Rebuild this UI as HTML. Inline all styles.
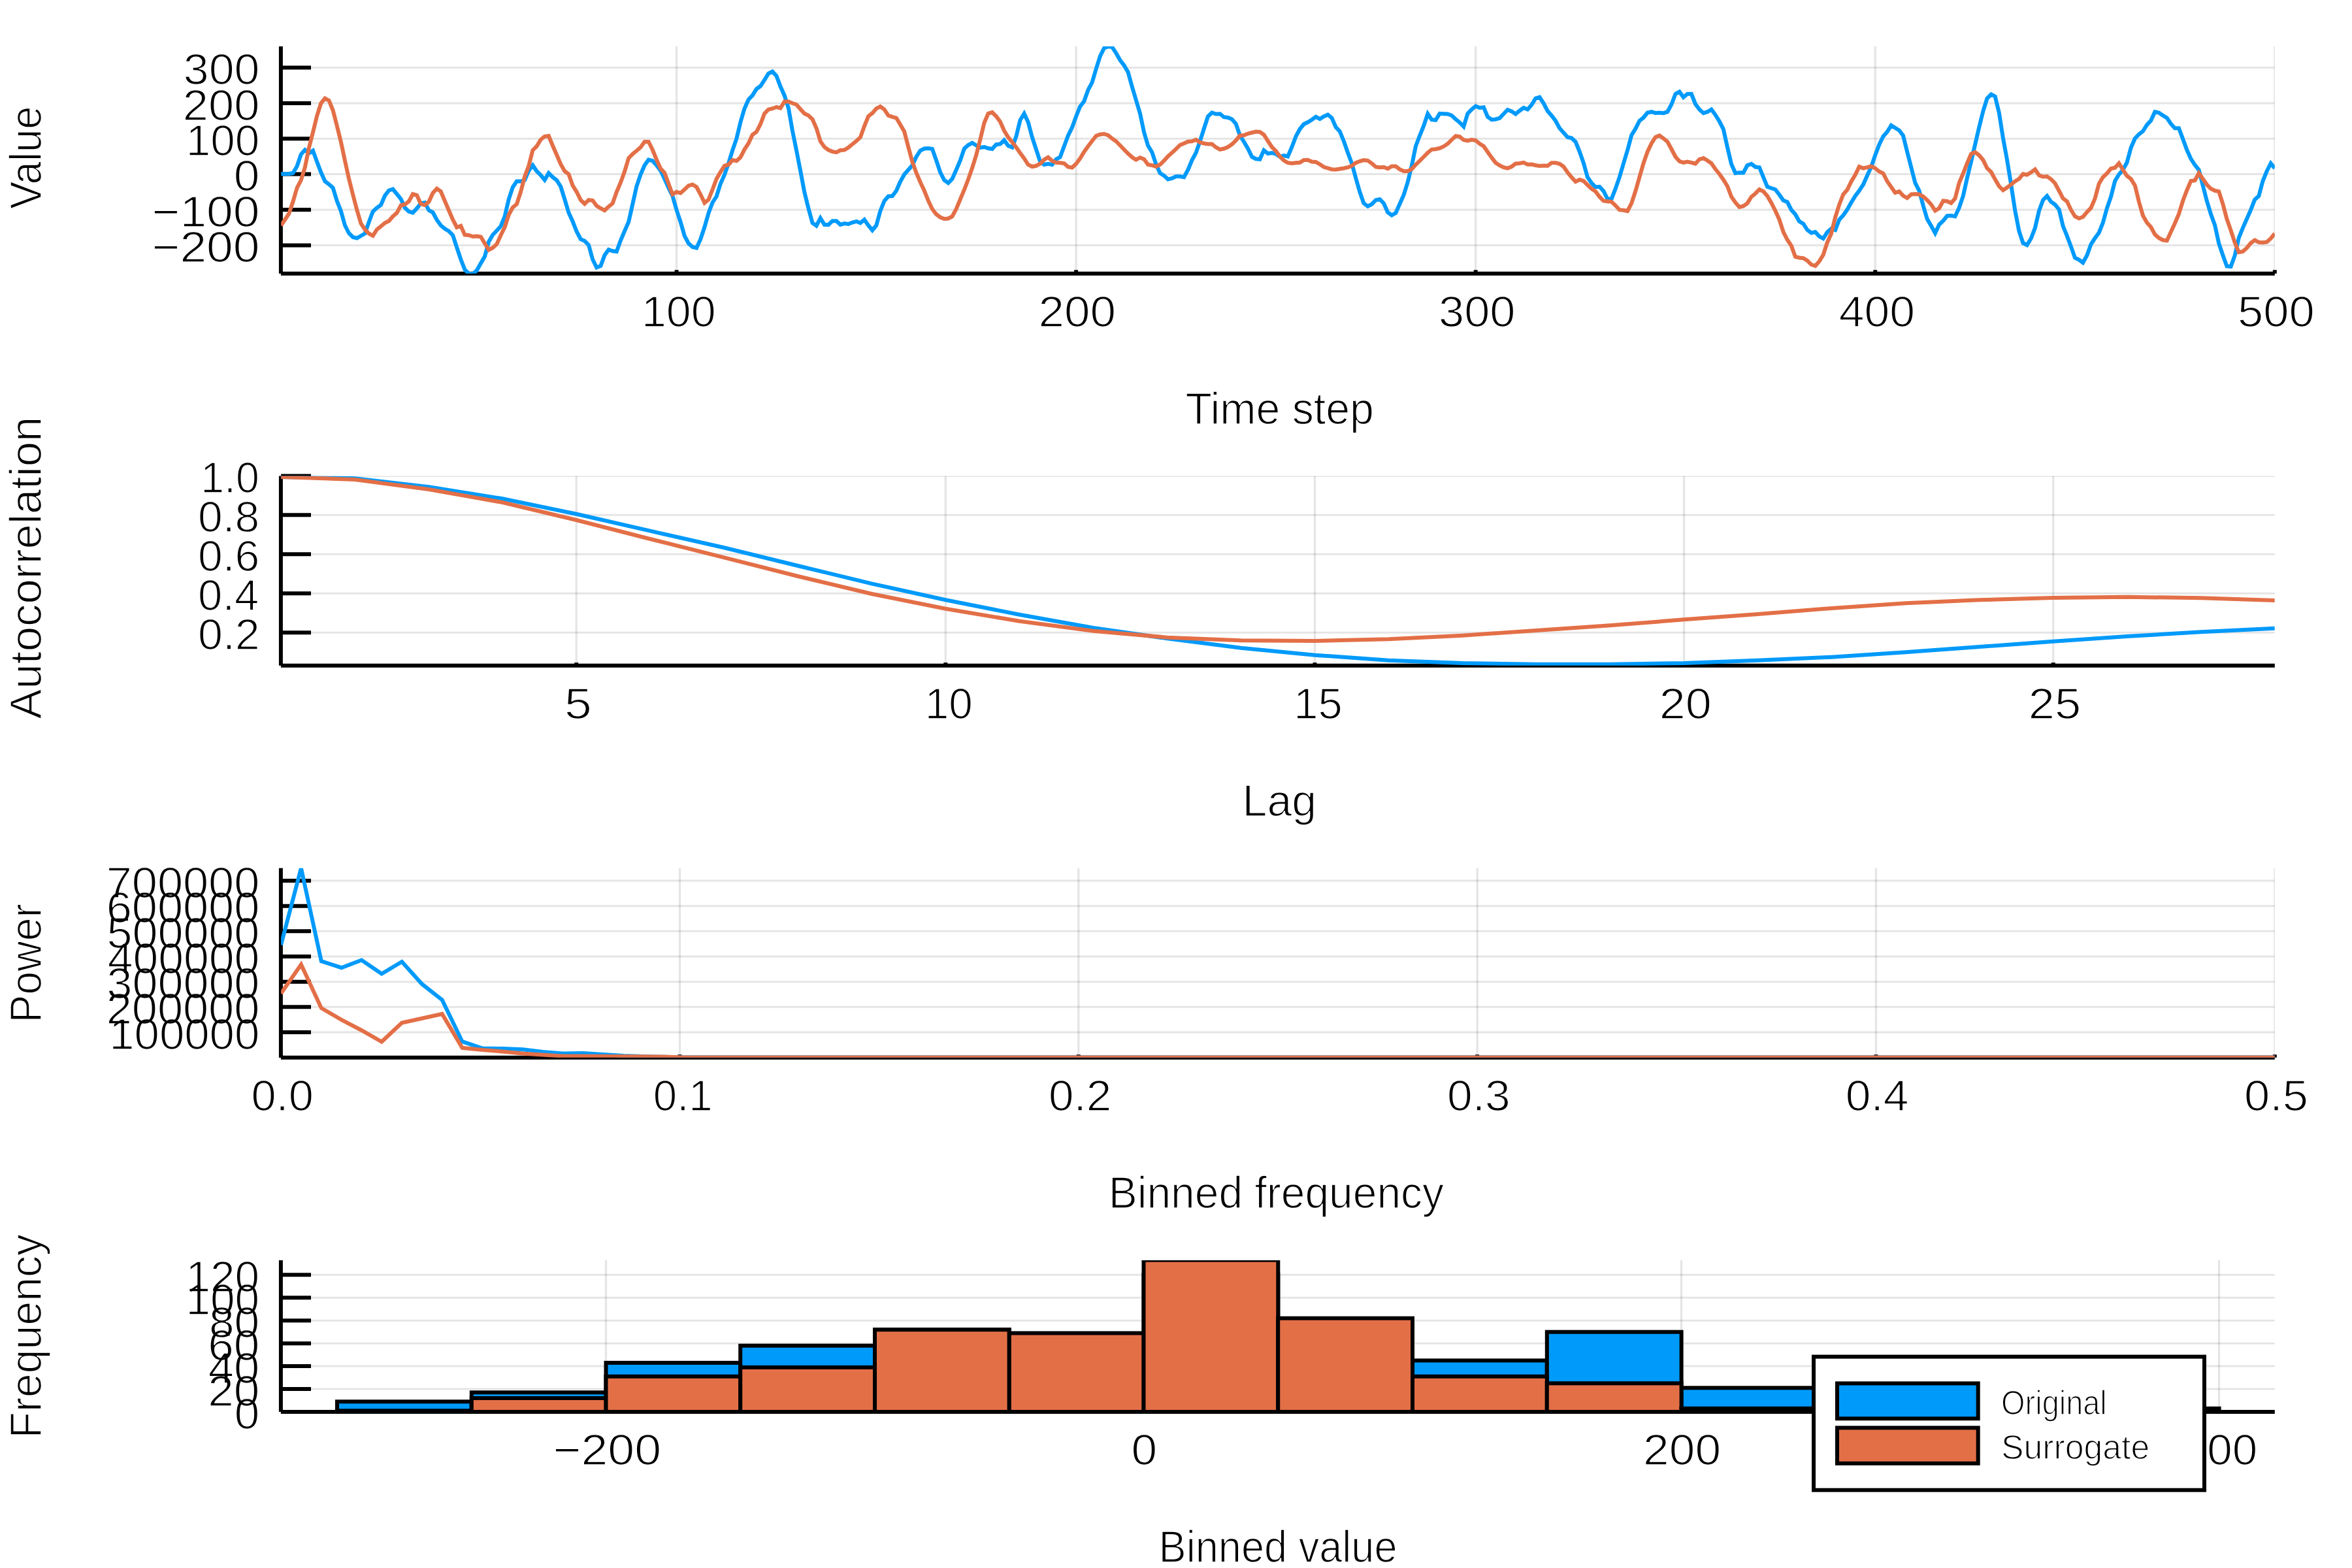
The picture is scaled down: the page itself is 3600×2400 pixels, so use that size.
<!DOCTYPE html>
<html><head><meta charset="utf-8"><title>Surrogate comparison</title>
<style>html,body{margin:0;padding:0;background:#fff}svg{display:block}</style></head>
<body>
<svg width="3600" height="2400" viewBox="0 0 3600 2400" font-family="'Liberation Sans', sans-serif" fill="#000">
<rect width="3600" height="2400" fill="#fff"/>
<clipPath id="c1"><rect x="430.1" y="71.0" width="3051.7000000000003" height="347.7"/></clipPath>
<clipPath id="g1"><rect x="430.1" y="71.0" width="3051.7000000000003" height="347.7"/></clipPath>
<g clip-path="url(#g1)">
<line x1="1035.55" y1="71.0" x2="1035.55" y2="418.7" stroke="#000" stroke-opacity="0.1" stroke-width="3.3"/>
<line x1="1647.11" y1="71.0" x2="1647.11" y2="418.7" stroke="#000" stroke-opacity="0.1" stroke-width="3.3"/>
<line x1="2258.67" y1="71.0" x2="2258.67" y2="418.7" stroke="#000" stroke-opacity="0.1" stroke-width="3.3"/>
<line x1="2870.24" y1="71.0" x2="2870.24" y2="418.7" stroke="#000" stroke-opacity="0.1" stroke-width="3.3"/>
<line x1="3481.80" y1="71.0" x2="3481.80" y2="418.7" stroke="#000" stroke-opacity="0.1" stroke-width="3.3"/>
<line x1="430.1" y1="103.40" x2="3481.8" y2="103.40" stroke="#000" stroke-opacity="0.1" stroke-width="3"/>
<line x1="430.1" y1="157.90" x2="3481.8" y2="157.90" stroke="#000" stroke-opacity="0.1" stroke-width="3"/>
<line x1="430.1" y1="212.20" x2="3481.8" y2="212.20" stroke="#000" stroke-opacity="0.1" stroke-width="3"/>
<line x1="430.1" y1="266.50" x2="3481.8" y2="266.50" stroke="#000" stroke-opacity="0.1" stroke-width="3"/>
<line x1="430.1" y1="321.00" x2="3481.8" y2="321.00" stroke="#000" stroke-opacity="0.1" stroke-width="3"/>
<line x1="430.1" y1="375.50" x2="3481.8" y2="375.50" stroke="#000" stroke-opacity="0.1" stroke-width="3"/>
</g>
<g stroke="#000" stroke-width="6" fill="none">
<line x1="429.90000000000003" y1="71.0" x2="429.90000000000003" y2="418.7"/>
<line x1="429.90000000000003" y1="418.7" x2="3481.8" y2="418.7"/>
<line x1="430.1" y1="103.40" x2="476" y2="103.40"/>
<line x1="430.1" y1="157.90" x2="476" y2="157.90"/>
<line x1="430.1" y1="212.20" x2="476" y2="212.20"/>
<line x1="430.1" y1="266.50" x2="476" y2="266.50"/>
<line x1="430.1" y1="321.00" x2="476" y2="321.00"/>
<line x1="430.1" y1="375.50" x2="476" y2="375.50"/>
<line x1="1035.55" y1="418.7" x2="1035.55" y2="413.24"/>
<line x1="1647.11" y1="418.7" x2="1647.11" y2="413.24"/>
<line x1="2258.67" y1="418.7" x2="2258.67" y2="413.24"/>
<line x1="2870.24" y1="418.7" x2="2870.24" y2="413.24"/>
<line x1="3481.80" y1="418.7" x2="3481.80" y2="413.24"/>
</g>
<polyline points="430.1,266.2 436.2,266.2 442.3,266.0 448.4,265.0 454.6,254.5 460.7,236.2 466.8,229.5 472.9,234.5 479.0,230.5 485.1,247.5 491.3,263.8 497.4,277.5 503.5,282.0 509.6,287.5 515.7,307.5 521.8,323.0 528.0,345.0 534.1,357.0 540.2,363.0 546.3,364.5 552.4,361.0 558.5,357.5 564.6,340.0 570.8,323.8 576.9,318.0 583.0,313.8 589.1,299.5 595.2,291.5 601.3,289.5 607.5,297.0 613.6,304.5 619.7,318.0 625.8,323.8 631.9,325.5 638.0,319.0 644.1,311.2 650.3,310.0 656.4,321.8 662.5,325.0 668.6,336.5 674.7,345.0 680.8,350.0 687.0,353.8 693.1,360.0 699.2,378.8 705.3,397.0 711.4,412.5 717.5,418.8 723.7,419.5 729.8,413.8 735.9,403.0 742.0,392.5 748.1,370.0 754.2,359.5 760.3,353.0 766.5,346.2 772.6,331.2 778.7,305.0 784.8,286.5 790.9,277.5 797.0,277.5 803.2,275.5 809.3,261.2 815.4,253.0 821.5,262.0 827.6,268.0 833.7,275.5 839.8,265.0 846.0,271.2 852.1,275.8 858.2,285.5 864.3,305.0 870.4,325.5 876.5,338.8 882.7,354.5 888.8,366.2 894.9,368.8 901.0,375.0 907.1,397.0 913.2,409.5 919.4,407.0 925.5,390.5 931.6,382.0 937.7,384.2 943.8,385.0 949.9,368.0 956.0,353.8 962.2,339.5 968.3,312.5 974.4,285.0 980.5,267.0 986.6,253.0 992.7,244.5 998.9,246.2 1005.0,253.0 1011.1,261.2 1017.2,273.8 1023.3,287.5 1029.4,300.0 1035.5,321.2 1041.7,340.0 1047.8,361.2 1053.9,372.5 1060.0,378.0 1066.1,379.5 1072.2,366.2 1078.4,347.5 1084.5,326.2 1090.6,310.0 1096.7,300.5 1102.8,281.2 1108.9,267.5 1115.1,250.0 1121.2,230.0 1127.3,212.5 1133.4,187.0 1139.5,166.2 1145.6,152.5 1151.7,146.2 1157.9,136.2 1164.0,131.8 1170.1,122.5 1176.2,112.5 1182.3,109.5 1188.4,116.2 1194.6,132.5 1200.7,146.2 1206.8,165.0 1212.9,200.0 1219.0,230.0 1225.1,261.2 1231.2,293.8 1237.4,318.8 1243.5,341.2 1249.6,345.5 1255.7,333.8 1261.8,343.8 1267.9,344.2 1274.1,338.2 1280.2,338.2 1286.3,343.8 1292.4,342.0 1298.5,343.0 1304.6,340.5 1310.8,338.8 1316.9,341.2 1323.0,336.2 1329.1,345.0 1335.2,352.5 1341.3,345.0 1347.4,323.0 1353.6,307.5 1359.7,300.5 1365.8,300.0 1371.9,292.0 1378.0,278.0 1384.1,267.0 1390.3,260.0 1396.4,253.0 1402.5,240.0 1408.6,230.5 1414.7,227.5 1420.8,227.0 1426.9,228.0 1433.1,245.5 1439.2,263.8 1445.3,275.8 1451.4,280.0 1457.5,273.8 1463.6,260.0 1469.8,245.5 1475.9,227.5 1482.0,222.0 1488.1,218.8 1494.2,222.5 1500.3,225.8 1506.5,225.0 1512.6,227.0 1518.7,228.0 1524.8,221.2 1530.9,220.5 1537.0,214.5 1543.1,223.0 1549.3,225.5 1555.4,208.8 1561.5,183.8 1567.6,173.8 1573.7,187.0 1579.8,210.0 1586.0,228.8 1592.1,247.5 1598.2,252.0 1604.3,250.8 1610.4,252.0 1616.5,243.8 1622.6,240.5 1628.8,223.8 1634.9,207.5 1641.0,195.0 1647.1,178.2 1653.2,163.0 1659.3,155.0 1665.5,137.5 1671.6,126.2 1677.7,105.5 1683.8,86.2 1689.9,73.8 1696.0,71.2 1702.2,72.0 1708.3,81.2 1714.4,92.0 1720.5,100.0 1726.6,110.5 1732.7,132.5 1738.8,153.0 1745.0,173.8 1751.1,202.5 1757.2,223.0 1763.3,233.0 1769.4,251.2 1775.5,265.0 1781.7,268.8 1787.8,274.5 1793.9,273.0 1800.0,270.0 1806.1,270.0 1812.2,271.2 1818.3,260.0 1824.5,245.0 1830.6,233.8 1836.7,216.2 1842.8,197.0 1848.9,178.2 1855.0,172.5 1861.2,174.5 1867.3,174.2 1873.4,179.2 1879.5,180.0 1885.6,182.5 1891.7,189.5 1897.9,207.5 1904.0,217.0 1910.1,227.5 1916.2,240.0 1922.3,243.2 1928.4,243.8 1934.5,230.0 1940.7,235.0 1946.8,234.0 1952.9,235.5 1959.0,240.0 1965.1,238.0 1971.2,239.5 1977.4,225.0 1983.5,208.8 1989.6,197.5 1995.7,190.0 2001.8,187.0 2007.9,183.2 2014.0,178.8 2020.2,182.0 2026.3,178.2 2032.4,175.5 2038.5,180.5 2044.6,194.5 2050.7,201.2 2056.9,216.2 2063.0,233.8 2069.1,250.0 2075.2,272.5 2081.3,293.8 2087.4,311.2 2093.6,315.8 2099.7,312.5 2105.8,306.2 2111.9,305.0 2118.0,311.2 2124.1,325.0 2130.2,329.5 2136.4,325.8 2142.5,312.0 2148.6,298.2 2154.7,278.8 2160.8,253.8 2166.9,223.8 2173.1,207.5 2179.2,192.5 2185.3,174.2 2191.4,183.2 2197.5,183.8 2203.6,173.8 2209.7,174.2 2215.9,174.5 2222.0,176.8 2228.1,182.5 2234.2,187.5 2240.3,193.8 2246.4,173.8 2252.6,167.5 2258.7,162.5 2264.8,165.0 2270.9,164.2 2277.0,178.8 2283.1,183.2 2289.3,182.5 2295.4,180.8 2301.5,174.2 2307.6,168.0 2313.7,170.5 2319.8,174.5 2325.9,169.5 2332.1,165.0 2338.2,167.5 2344.3,160.5 2350.4,150.5 2356.5,148.8 2362.6,158.0 2368.8,170.0 2374.9,177.0 2381.0,185.0 2387.1,196.2 2393.2,203.0 2399.3,210.0 2405.4,211.2 2411.6,217.0 2417.7,232.0 2423.8,249.5 2429.9,271.2 2436.0,280.0 2442.1,286.2 2448.3,285.8 2454.4,292.5 2460.5,304.5 2466.6,304.5 2472.7,288.8 2478.8,271.2 2485.0,250.0 2491.1,230.0 2497.2,207.0 2503.3,197.0 2509.4,185.0 2515.5,180.0 2521.6,172.5 2527.8,171.2 2533.9,173.0 2540.0,172.5 2546.1,173.2 2552.2,171.2 2558.3,160.0 2564.5,143.8 2570.6,140.5 2576.7,148.8 2582.8,143.8 2588.9,143.8 2595.0,159.2 2601.1,167.5 2607.3,173.2 2613.4,171.2 2619.5,167.5 2625.6,175.8 2631.7,185.8 2637.8,197.5 2644.0,225.5 2650.1,251.2 2656.2,265.0 2662.3,264.2 2668.4,264.5 2674.5,253.0 2680.7,250.8 2686.8,255.5 2692.9,256.2 2699.0,271.2 2705.1,285.8 2711.2,288.0 2717.3,290.0 2723.5,298.0 2729.6,306.8 2735.7,309.2 2741.8,321.2 2747.9,328.0 2754.0,338.8 2760.2,342.5 2766.3,352.0 2772.4,356.5 2778.5,355.0 2784.6,361.8 2790.7,365.0 2796.8,355.5 2803.0,350.0 2809.1,352.0 2815.2,336.2 2821.3,329.5 2827.4,320.8 2833.5,310.0 2839.7,300.0 2845.8,291.8 2851.9,282.5 2858.0,268.8 2864.1,255.5 2870.2,237.5 2876.4,221.2 2882.5,208.8 2888.6,201.8 2894.7,192.0 2900.8,195.8 2906.9,199.5 2913.0,207.5 2919.2,232.5 2925.3,256.2 2931.4,280.0 2937.5,291.8 2943.6,314.5 2949.7,335.0 2955.9,345.8 2962.0,356.8 2968.1,343.8 2974.2,338.0 2980.3,330.5 2986.4,330.0 2992.5,331.2 2998.7,318.0 3004.8,300.0 3010.9,272.5 3017.0,247.5 3023.1,221.2 3029.2,195.0 3035.4,170.0 3041.5,150.5 3047.6,144.5 3053.7,147.5 3059.8,172.5 3065.9,211.2 3072.1,245.0 3078.2,282.5 3084.3,322.5 3090.4,353.8 3096.5,372.0 3102.6,375.0 3108.7,365.0 3114.9,348.8 3121.0,322.5 3127.1,306.2 3133.2,300.0 3139.3,308.8 3145.4,313.0 3151.6,320.5 3157.7,346.2 3163.8,361.2 3169.9,377.5 3176.0,394.5 3182.1,397.5 3188.2,402.0 3194.4,390.8 3200.5,373.8 3206.6,364.5 3212.7,356.2 3218.8,340.8 3224.9,318.8 3231.1,300.8 3237.2,277.0 3243.3,267.0 3249.4,260.0 3255.5,248.8 3261.6,226.2 3267.8,212.0 3273.9,205.5 3280.0,200.8 3286.1,191.2 3292.2,184.5 3298.3,171.2 3304.4,172.5 3310.6,176.8 3316.7,180.5 3322.8,189.5 3328.9,196.2 3335.0,196.2 3341.1,212.5 3347.3,229.5 3353.4,243.0 3359.5,252.5 3365.6,260.0 3371.7,283.8 3377.8,307.5 3383.9,327.5 3390.1,344.5 3396.2,372.5 3402.3,390.5 3408.4,407.5 3414.5,408.0 3420.6,391.2 3426.8,363.8 3432.9,348.8 3439.0,335.0 3445.1,321.2 3451.2,305.5 3457.3,300.0 3463.5,277.0 3469.6,262.0 3475.7,250.0 3481.8,257.5" fill="none" stroke="#009AFA" stroke-width="6" stroke-linejoin="miter" clip-path="url(#c1)"/>
<polyline points="430.1,345.0 436.2,336.2 442.3,327.0 448.4,308.8 454.6,287.5 460.7,275.8 466.8,256.2 472.9,226.2 479.0,202.5 485.1,177.5 491.3,158.0 497.4,150.5 503.5,153.8 509.6,168.8 515.7,192.5 521.8,217.0 528.0,246.2 534.1,273.8 540.2,298.0 546.3,321.2 552.4,342.0 558.5,351.2 564.6,357.5 570.8,360.8 576.9,351.2 583.0,346.5 589.1,341.2 595.2,338.2 601.3,331.2 607.5,325.8 613.6,314.2 619.7,313.0 625.8,308.2 631.9,297.0 638.0,298.8 644.1,312.0 650.3,314.0 656.4,308.8 662.5,295.5 668.6,288.8 674.7,293.0 680.8,307.5 687.0,322.0 693.1,336.2 699.2,348.0 705.3,345.8 711.4,359.5 717.5,360.0 723.7,362.0 729.8,361.5 735.9,362.5 742.0,372.5 748.1,382.5 754.2,379.2 760.3,373.8 766.5,360.0 772.6,347.5 778.7,328.8 784.8,317.5 790.9,312.5 797.0,293.8 803.2,270.0 809.3,253.8 815.4,230.0 821.5,223.8 827.6,213.8 833.7,208.8 839.8,208.0 846.0,223.0 852.1,237.0 858.2,251.2 864.3,262.0 870.4,266.5 876.5,283.8 882.7,293.8 888.8,306.2 894.9,312.0 901.0,306.2 907.1,306.8 913.2,315.0 919.4,318.8 925.5,322.0 931.6,316.2 937.7,311.2 943.8,293.8 949.9,279.5 956.0,262.5 962.2,242.0 968.3,235.8 974.4,230.8 980.5,225.5 986.6,217.0 992.7,217.0 998.9,229.5 1005.0,244.5 1011.1,258.0 1017.2,264.5 1023.3,281.2 1029.4,297.5 1035.5,293.8 1041.7,295.5 1047.8,290.0 1053.9,284.2 1060.0,282.5 1066.1,286.2 1072.2,297.5 1078.4,310.5 1084.5,305.5 1090.6,290.0 1096.7,273.8 1102.8,263.2 1108.9,253.8 1115.1,252.0 1121.2,245.0 1127.3,246.2 1133.4,240.8 1139.5,228.8 1145.6,219.5 1151.7,206.2 1157.9,201.8 1164.0,190.0 1170.1,173.8 1176.2,167.5 1182.3,166.2 1188.4,163.8 1194.6,165.5 1200.7,155.5 1206.8,155.5 1212.9,158.0 1219.0,160.0 1225.1,167.0 1231.2,173.8 1237.4,176.8 1243.5,182.5 1249.6,196.2 1255.7,216.2 1261.8,225.0 1267.9,229.5 1274.1,232.0 1280.2,233.2 1286.3,230.0 1292.4,229.5 1298.5,225.8 1304.6,220.8 1310.8,215.8 1316.9,210.0 1323.0,193.0 1329.1,178.0 1335.2,173.2 1341.3,166.2 1347.4,163.0 1353.6,167.5 1359.7,176.8 1365.8,178.8 1371.9,180.5 1378.0,190.8 1384.1,201.2 1390.3,225.0 1396.4,247.5 1402.5,264.5 1408.6,278.8 1414.7,291.8 1420.8,307.0 1426.9,320.0 1433.1,328.0 1439.2,332.5 1445.3,335.0 1451.4,334.5 1457.5,331.2 1463.6,320.0 1469.8,305.0 1475.9,290.5 1482.0,274.5 1488.1,257.0 1494.2,237.5 1500.3,213.8 1506.5,188.0 1512.6,173.8 1518.7,172.0 1524.8,178.0 1530.9,186.2 1537.0,200.0 1543.1,210.0 1549.3,217.5 1555.4,225.5 1561.5,234.2 1567.6,242.5 1573.7,252.0 1579.8,255.0 1586.0,253.8 1592.1,250.5 1598.2,244.5 1604.3,240.8 1610.4,246.2 1616.5,248.8 1622.6,249.2 1628.8,250.0 1634.9,255.5 1641.0,256.5 1647.1,250.8 1653.2,242.5 1659.3,232.5 1665.5,223.8 1671.6,215.8 1677.7,208.0 1683.8,205.8 1689.9,205.0 1696.0,207.0 1702.2,212.0 1708.3,216.2 1714.4,222.5 1720.5,228.8 1726.6,235.0 1732.7,240.5 1738.8,244.5 1745.0,241.2 1751.1,243.8 1757.2,252.0 1763.3,253.0 1769.4,255.0 1775.5,252.0 1781.7,245.8 1787.8,239.2 1793.9,233.8 1800.0,228.2 1806.1,222.0 1812.2,219.5 1818.3,216.8 1824.5,216.2 1830.6,213.8 1836.7,218.0 1842.8,219.5 1848.9,220.5 1855.0,220.5 1861.2,225.5 1867.3,228.8 1873.4,227.5 1879.5,225.0 1885.6,220.8 1891.7,215.0 1897.9,207.5 1904.0,207.0 1910.1,204.5 1916.2,203.0 1922.3,201.5 1928.4,202.0 1934.5,206.2 1940.7,215.8 1946.8,225.0 1952.9,231.2 1959.0,239.5 1965.1,245.5 1971.2,249.2 1977.4,250.0 1983.5,249.2 1989.6,248.8 1995.7,245.0 2001.8,244.8 2007.9,247.5 2014.0,248.0 2020.2,251.5 2026.3,255.5 2032.4,257.5 2038.5,259.2 2044.6,259.5 2050.7,258.5 2056.9,257.5 2063.0,256.2 2069.1,253.8 2075.2,249.2 2081.3,246.8 2087.4,245.0 2093.6,245.8 2099.7,250.0 2105.8,255.5 2111.9,256.2 2118.0,255.8 2124.1,258.2 2130.2,254.5 2136.4,254.5 2142.5,259.2 2148.6,262.0 2154.7,262.0 2160.8,258.8 2166.9,252.0 2173.1,246.2 2179.2,240.0 2185.3,233.8 2191.4,228.8 2197.5,228.2 2203.6,226.8 2209.7,224.2 2215.9,220.0 2222.0,213.8 2228.1,208.2 2234.2,209.2 2240.3,214.2 2246.4,215.5 2252.6,213.8 2258.7,215.0 2264.8,220.0 2270.9,223.8 2277.0,232.5 2283.1,241.2 2289.3,249.2 2295.4,253.2 2301.5,256.2 2307.6,257.5 2313.7,255.0 2319.8,250.5 2325.9,250.0 2332.1,248.8 2338.2,251.8 2344.3,251.5 2350.4,253.0 2356.5,254.0 2362.6,253.5 2368.8,253.8 2374.9,249.2 2381.0,249.2 2387.1,250.8 2393.2,255.0 2399.3,263.8 2405.4,271.2 2411.6,278.0 2417.7,275.0 2423.8,276.8 2429.9,283.0 2436.0,288.8 2442.1,293.0 2448.3,301.2 2454.4,307.5 2460.5,308.2 2466.6,308.8 2472.7,314.5 2478.8,321.2 2485.0,321.8 2491.1,323.0 2497.2,311.2 2503.3,292.5 2509.4,271.2 2515.5,250.0 2521.6,232.5 2527.8,219.5 2533.9,210.0 2540.0,207.5 2546.1,211.8 2552.2,217.0 2558.3,228.0 2564.5,240.0 2570.6,246.8 2576.7,248.8 2582.8,247.5 2588.9,248.8 2595.0,250.5 2601.1,243.8 2607.3,242.0 2613.4,245.8 2619.5,250.0 2625.6,258.8 2631.7,266.2 2637.8,275.0 2644.0,285.0 2650.1,301.2 2656.2,310.0 2662.3,317.0 2668.4,315.5 2674.5,311.2 2680.7,301.2 2686.8,296.2 2692.9,290.0 2699.0,293.0 2705.1,300.0 2711.2,310.5 2717.3,322.5 2723.5,336.2 2729.6,355.0 2735.7,367.0 2741.8,376.2 2747.9,393.0 2754.0,394.5 2760.2,395.2 2766.3,398.8 2772.4,405.0 2778.5,407.0 2784.6,400.0 2790.7,390.0 2796.8,371.2 2803.0,357.5 2809.1,332.5 2815.2,313.2 2821.3,297.5 2827.4,290.5 2833.5,278.0 2839.7,267.5 2845.8,255.0 2851.9,257.5 2858.0,256.2 2864.1,254.5 2870.2,257.5 2876.4,262.5 2882.5,265.5 2888.6,277.5 2894.7,286.2 2900.8,295.0 2906.9,293.0 2913.0,299.5 2919.2,303.0 2925.3,297.5 2931.4,297.0 2937.5,297.5 2943.6,300.8 2949.7,306.2 2955.9,313.0 2962.0,322.5 2968.1,318.8 2974.2,307.5 2980.3,308.0 2986.4,310.8 2992.5,303.8 2998.7,280.0 3004.8,265.5 3010.9,250.0 3017.0,235.5 3023.1,233.0 3029.2,237.5 3035.4,245.0 3041.5,257.5 3047.6,263.2 3053.7,274.5 3059.8,285.0 3065.9,291.2 3072.1,287.0 3078.2,282.5 3084.3,277.5 3090.4,273.8 3096.5,266.2 3102.6,267.5 3108.7,263.8 3114.9,259.2 3121.0,268.2 3127.1,270.5 3133.2,270.0 3139.3,274.2 3145.4,280.5 3151.6,292.0 3157.7,303.8 3163.8,308.2 3169.9,321.2 3176.0,331.2 3182.1,334.2 3188.2,332.0 3194.4,324.5 3200.5,318.2 3206.6,303.8 3212.7,281.2 3218.8,271.2 3224.9,265.5 3231.1,258.0 3237.2,256.8 3243.3,250.0 3249.4,260.0 3255.5,269.2 3261.6,273.8 3267.8,283.8 3273.9,308.8 3280.0,330.0 3286.1,340.8 3292.2,347.5 3298.3,358.8 3304.4,364.2 3310.6,367.5 3316.7,368.2 3322.8,355.0 3328.9,341.8 3335.0,327.5 3341.1,307.5 3347.3,291.2 3353.4,277.0 3359.5,276.2 3365.6,265.0 3371.7,273.8 3377.8,282.5 3383.9,288.8 3390.1,291.8 3396.2,293.0 3402.3,312.0 3408.4,335.0 3414.5,352.5 3420.6,371.2 3426.8,386.2 3432.9,385.0 3439.0,379.5 3445.1,372.0 3451.2,367.5 3457.3,370.8 3463.5,371.2 3469.6,370.5 3475.7,365.0 3481.8,357.5" fill="none" stroke="#E36F47" stroke-width="6" stroke-linejoin="miter" clip-path="url(#c1)"/>
<text transform="translate(280.82,129.15) scale(1.0531,1)" font-size="66.3" stroke="#fff" stroke-width="1.5" vector-effect="non-scaling-stroke" stroke-linejoin="round" style="mix-blend-mode:multiply">300</text>
<text transform="translate(279.87,183.65) scale(1.0619,1)" font-size="66.3" stroke="#fff" stroke-width="1.5" vector-effect="non-scaling-stroke" stroke-linejoin="round" style="mix-blend-mode:multiply">200</text>
<text transform="translate(284.77,237.95) scale(1.0165,1)" font-size="66.3" stroke="#fff" stroke-width="1.5" vector-effect="non-scaling-stroke" stroke-linejoin="round" style="mix-blend-mode:multiply">100</text>
<text transform="translate(357.73,292.25) scale(1.0751,1)" font-size="66.3" stroke="#fff" stroke-width="1.5" vector-effect="non-scaling-stroke" stroke-linejoin="round" style="mix-blend-mode:multiply">0</text>
<text transform="translate(232.66,346.75) scale(1.1041,1)" font-size="66.3" stroke="#fff" stroke-width="1.5" vector-effect="non-scaling-stroke" stroke-linejoin="round" style="mix-blend-mode:multiply">−100</text>
<text transform="translate(232.66,401.25) scale(1.1041,1)" font-size="66.3" stroke="#fff" stroke-width="1.5" vector-effect="non-scaling-stroke" stroke-linejoin="round" style="mix-blend-mode:multiply">−200</text>
<text transform="translate(982.01,499.95) scale(1.0272,1)" font-size="66.3" stroke="#fff" stroke-width="1.5" vector-effect="non-scaling-stroke" stroke-linejoin="round" style="mix-blend-mode:multiply">100</text>
<text transform="translate(1589.50,499.95) scale(1.0705,1)" font-size="66.3" stroke="#fff" stroke-width="1.5" vector-effect="non-scaling-stroke" stroke-linejoin="round" style="mix-blend-mode:multiply">200</text>
<text transform="translate(2202.02,499.95) scale(1.0616,1)" font-size="66.3" stroke="#fff" stroke-width="1.5" vector-effect="non-scaling-stroke" stroke-linejoin="round" style="mix-blend-mode:multiply">300</text>
<text transform="translate(2814.66,499.95) scale(1.0516,1)" font-size="66.3" stroke="#fff" stroke-width="1.5" vector-effect="non-scaling-stroke" stroke-linejoin="round" style="mix-blend-mode:multiply">400</text>
<text transform="translate(3425.01,499.95) scale(1.0629,1)" font-size="66.3" stroke="#fff" stroke-width="1.5" vector-effect="non-scaling-stroke" stroke-linejoin="round" style="mix-blend-mode:multiply">500</text>
<text transform="translate(1814.44,648.95) scale(0.9762,1)" font-size="67.9" stroke="#fff" stroke-width="1.5" vector-effect="non-scaling-stroke" stroke-linejoin="round" style="mix-blend-mode:multiply">Time step</text>
<text transform="translate(63.05,320.10) rotate(-90) scale(0.9357,1)" font-size="67.9" stroke="#fff" stroke-width="1.5" vector-effect="non-scaling-stroke" stroke-linejoin="round" style="mix-blend-mode:multiply">Value</text>
<clipPath id="c2"><rect x="430.1" y="728.5" width="3051.7000000000003" height="290.20000000000005"/></clipPath>
<clipPath id="g2"><rect x="430.1" y="728.5" width="3051.7000000000003" height="290.20000000000005"/></clipPath>
<g clip-path="url(#g2)">
<line x1="882.20" y1="728.5" x2="882.20" y2="1018.7" stroke="#000" stroke-opacity="0.1" stroke-width="3.3"/>
<line x1="1447.33" y1="728.5" x2="1447.33" y2="1018.7" stroke="#000" stroke-opacity="0.1" stroke-width="3.3"/>
<line x1="2012.46" y1="728.5" x2="2012.46" y2="1018.7" stroke="#000" stroke-opacity="0.1" stroke-width="3.3"/>
<line x1="2577.59" y1="728.5" x2="2577.59" y2="1018.7" stroke="#000" stroke-opacity="0.1" stroke-width="3.3"/>
<line x1="3142.72" y1="728.5" x2="3142.72" y2="1018.7" stroke="#000" stroke-opacity="0.1" stroke-width="3.3"/>
<line x1="430.1" y1="728.50" x2="3481.8" y2="728.50" stroke="#000" stroke-opacity="0.1" stroke-width="3"/>
<line x1="430.1" y1="788.30" x2="3481.8" y2="788.30" stroke="#000" stroke-opacity="0.1" stroke-width="3"/>
<line x1="430.1" y1="848.30" x2="3481.8" y2="848.30" stroke="#000" stroke-opacity="0.1" stroke-width="3"/>
<line x1="430.1" y1="908.30" x2="3481.8" y2="908.30" stroke="#000" stroke-opacity="0.1" stroke-width="3"/>
<line x1="430.1" y1="968.30" x2="3481.8" y2="968.30" stroke="#000" stroke-opacity="0.1" stroke-width="3"/>
</g>
<g stroke="#000" stroke-width="6" fill="none">
<line x1="429.90000000000003" y1="728.5" x2="429.90000000000003" y2="1018.7"/>
<line x1="429.90000000000003" y1="1018.7" x2="3481.8" y2="1018.7"/>
<line x1="430.1" y1="728.50" x2="476" y2="728.50"/>
<line x1="430.1" y1="788.30" x2="476" y2="788.30"/>
<line x1="430.1" y1="848.30" x2="476" y2="848.30"/>
<line x1="430.1" y1="908.30" x2="476" y2="908.30"/>
<line x1="430.1" y1="968.30" x2="476" y2="968.30"/>
<line x1="882.20" y1="1018.7" x2="882.20" y2="1014.14"/>
<line x1="1447.33" y1="1018.7" x2="1447.33" y2="1014.14"/>
<line x1="2012.46" y1="1018.7" x2="2012.46" y2="1014.14"/>
<line x1="2577.59" y1="1018.7" x2="2577.59" y2="1014.14"/>
<line x1="3142.72" y1="1018.7" x2="3142.72" y2="1014.14"/>
</g>
<polyline points="430.1,730.0 543.1,732.3 656.2,745.3 769.2,763.3 882.2,786.7 995.2,812.7 1108.3,838.3 1221.3,866.0 1334.3,893.3 1447.3,918.3 1560.4,940.7 1673.4,961.0 1786.4,977.3 1899.4,991.7 2012.5,1002.7 2125.5,1010.7 2238.5,1015.0 2351.5,1016.7 2464.6,1016.7 2577.6,1015.0 2690.6,1010.7 2803.6,1005.7 2916.7,998.3 3029.7,990.0 3142.7,981.7 3255.7,974.0 3368.8,967.3 3481.8,961.7" fill="none" stroke="#009AFA" stroke-width="6" stroke-linejoin="miter" clip-path="url(#c2)"/>
<polyline points="430.1,730.0 543.1,734.0 656.2,749.0 769.2,769.0 882.2,796.0 995.2,825.0 1108.3,853.3 1221.3,882.0 1334.3,909.0 1447.3,931.7 1560.4,950.7 1673.4,965.7 1786.4,975.7 1899.4,980.3 2012.5,981.0 2125.5,978.3 2238.5,972.7 2351.5,965.0 2464.6,957.3 2577.6,948.3 2690.6,940.0 2803.6,931.0 2916.7,923.3 3029.7,918.3 3142.7,915.0 3255.7,913.7 3368.8,915.3 3481.8,919.0" fill="none" stroke="#E36F47" stroke-width="6" stroke-linejoin="miter" clip-path="url(#c2)"/>
<text transform="translate(307.29,754.25) scale(0.9716,1)" font-size="66.3" stroke="#fff" stroke-width="1.5" vector-effect="non-scaling-stroke" stroke-linejoin="round" style="mix-blend-mode:multiply">1.0</text>
<text transform="translate(303.07,814.05) scale(1.0216,1)" font-size="66.3" stroke="#fff" stroke-width="1.5" vector-effect="non-scaling-stroke" stroke-linejoin="round" style="mix-blend-mode:multiply">0.8</text>
<text transform="translate(303.06,874.05) scale(1.0231,1)" font-size="66.3" stroke="#fff" stroke-width="1.5" vector-effect="non-scaling-stroke" stroke-linejoin="round" style="mix-blend-mode:multiply">0.6</text>
<text transform="translate(303.10,934.05) scale(1.0114,1)" font-size="66.3" stroke="#fff" stroke-width="1.5" vector-effect="non-scaling-stroke" stroke-linejoin="round" style="mix-blend-mode:multiply">0.4</text>
<text transform="translate(303.05,994.05) scale(1.0276,1)" font-size="66.3" stroke="#fff" stroke-width="1.5" vector-effect="non-scaling-stroke" stroke-linejoin="round" style="mix-blend-mode:multiply">0.2</text>
<text transform="translate(863.98,1099.95) scale(1.1315,1)" font-size="66.3" stroke="#fff" stroke-width="1.5" vector-effect="non-scaling-stroke" stroke-linejoin="round" style="mix-blend-mode:multiply">5</text>
<text transform="translate(1415.63,1099.95) scale(0.9905,1)" font-size="66.3" stroke="#fff" stroke-width="1.5" vector-effect="non-scaling-stroke" stroke-linejoin="round" style="mix-blend-mode:multiply">10</text>
<text transform="translate(1980.17,1099.95) scale(1.0095,1)" font-size="66.3" stroke="#fff" stroke-width="1.5" vector-effect="non-scaling-stroke" stroke-linejoin="round" style="mix-blend-mode:multiply">15</text>
<text transform="translate(2539.68,1099.95) scale(1.0849,1)" font-size="66.3" stroke="#fff" stroke-width="1.5" vector-effect="non-scaling-stroke" stroke-linejoin="round" style="mix-blend-mode:multiply">20</text>
<text transform="translate(3104.80,1099.95) scale(1.0889,1)" font-size="66.3" stroke="#fff" stroke-width="1.5" vector-effect="non-scaling-stroke" stroke-linejoin="round" style="mix-blend-mode:multiply">25</text>
<text transform="translate(1901.61,1248.95) scale(1.0024,1)" font-size="67.9" stroke="#fff" stroke-width="1.5" vector-effect="non-scaling-stroke" stroke-linejoin="round" style="mix-blend-mode:multiply">Lag</text>
<text transform="translate(63.05,1100.48) rotate(-90) scale(1.0135,1)" font-size="67.9" stroke="#fff" stroke-width="1.5" vector-effect="non-scaling-stroke" stroke-linejoin="round" style="mix-blend-mode:multiply">Autocorrelation</text>
<clipPath id="c3"><rect x="430.1" y="1328.75" width="3051.7000000000003" height="289.95000000000005"/></clipPath>
<clipPath id="g3"><rect x="430.1" y="1328.75" width="3051.7000000000003" height="289.95000000000005"/></clipPath>
<g clip-path="url(#g3)">
<line x1="430.10" y1="1328.75" x2="430.10" y2="1618.7" stroke="#000" stroke-opacity="0.1" stroke-width="3.3"/>
<line x1="1040.44" y1="1328.75" x2="1040.44" y2="1618.7" stroke="#000" stroke-opacity="0.1" stroke-width="3.3"/>
<line x1="1650.78" y1="1328.75" x2="1650.78" y2="1618.7" stroke="#000" stroke-opacity="0.1" stroke-width="3.3"/>
<line x1="2261.12" y1="1328.75" x2="2261.12" y2="1618.7" stroke="#000" stroke-opacity="0.1" stroke-width="3.3"/>
<line x1="2871.46" y1="1328.75" x2="2871.46" y2="1618.7" stroke="#000" stroke-opacity="0.1" stroke-width="3.3"/>
<line x1="3481.80" y1="1328.75" x2="3481.80" y2="1618.7" stroke="#000" stroke-opacity="0.1" stroke-width="3.3"/>
<line x1="430.1" y1="1580.03" x2="3481.8" y2="1580.03" stroke="#000" stroke-opacity="0.1" stroke-width="3"/>
<line x1="430.1" y1="1541.36" x2="3481.8" y2="1541.36" stroke="#000" stroke-opacity="0.1" stroke-width="3"/>
<line x1="430.1" y1="1502.69" x2="3481.8" y2="1502.69" stroke="#000" stroke-opacity="0.1" stroke-width="3"/>
<line x1="430.1" y1="1464.02" x2="3481.8" y2="1464.02" stroke="#000" stroke-opacity="0.1" stroke-width="3"/>
<line x1="430.1" y1="1425.35" x2="3481.8" y2="1425.35" stroke="#000" stroke-opacity="0.1" stroke-width="3"/>
<line x1="430.1" y1="1386.68" x2="3481.8" y2="1386.68" stroke="#000" stroke-opacity="0.1" stroke-width="3"/>
<line x1="430.1" y1="1348.01" x2="3481.8" y2="1348.01" stroke="#000" stroke-opacity="0.1" stroke-width="3"/>
</g>
<g stroke="#000" stroke-width="6" fill="none">
<line x1="429.90000000000003" y1="1328.75" x2="429.90000000000003" y2="1618.7"/>
<line x1="429.90000000000003" y1="1618.7" x2="3481.8" y2="1618.7"/>
<line x1="430.1" y1="1580.03" x2="476" y2="1580.03"/>
<line x1="430.1" y1="1541.36" x2="476" y2="1541.36"/>
<line x1="430.1" y1="1502.69" x2="476" y2="1502.69"/>
<line x1="430.1" y1="1464.02" x2="476" y2="1464.02"/>
<line x1="430.1" y1="1425.35" x2="476" y2="1425.35"/>
<line x1="430.1" y1="1386.68" x2="476" y2="1386.68"/>
<line x1="430.1" y1="1348.01" x2="476" y2="1348.01"/>
<line x1="430.10" y1="1618.7" x2="430.10" y2="1614.15"/>
<line x1="1040.44" y1="1618.7" x2="1040.44" y2="1614.15"/>
<line x1="1650.78" y1="1618.7" x2="1650.78" y2="1614.15"/>
<line x1="2261.12" y1="1618.7" x2="2261.12" y2="1614.15"/>
<line x1="2871.46" y1="1618.7" x2="2871.46" y2="1614.15"/>
<line x1="3481.80" y1="1618.7" x2="3481.80" y2="1614.15"/>
</g>
<clipPath id="c3b"><rect x="430.1" y="1328.75" width="3051.7000000000003" height="290.05000000000007"/></clipPath>
<polyline points="430.1,1446.2 460.9,1328.8 491.8,1471.2 522.6,1481.2 553.4,1469.5 584.2,1490.5 615.1,1472.0 645.9,1506.2 676.7,1530.5 707.5,1594.2 738.4,1604.5 769.2,1605.0 800.0,1606.2 830.8,1610.0 861.7,1612.5 892.5,1612.0 923.3,1614.0 954.1,1616.0 985.0,1617.0 1015.8,1617.8 1046.6,1618.5 1077.4,1618.5 1108.3,1618.5 1139.1,1618.5 1169.9,1618.5 1200.7,1618.5 1231.6,1618.5 1262.4,1618.5 1293.2,1618.5 1324.0,1618.5 1354.9,1618.5 1385.7,1618.5 1416.5,1618.5 1447.3,1618.5 1478.2,1618.5 1509.0,1618.5 1539.8,1618.5 1570.6,1618.5 1601.5,1618.5 1632.3,1618.5 1663.1,1618.5 1693.9,1618.5 1724.8,1618.5 1755.6,1618.5 1786.4,1618.5 1817.2,1618.5 1848.1,1618.5 1878.9,1618.5 1909.7,1618.5 1940.5,1618.5 1971.4,1618.5 2002.2,1618.5 2033.0,1618.5 2063.8,1618.5 2094.7,1618.5 2125.5,1618.5 2156.3,1618.5 2187.1,1618.5 2218.0,1618.5 2248.8,1618.5 2279.6,1618.5 2310.4,1618.5 2341.3,1618.5 2372.1,1618.5 2402.9,1618.5 2433.7,1618.5 2464.6,1618.5 2495.4,1618.5 2526.2,1618.5 2557.0,1618.5 2587.9,1618.5 2618.7,1618.5 2649.5,1618.5 2680.3,1618.5 2711.2,1618.5 2742.0,1618.5 2772.8,1618.5 2803.6,1618.5 2834.5,1618.5 2865.3,1618.5 2896.1,1618.5 2926.9,1618.5 2957.8,1618.5 2988.6,1618.5 3019.4,1618.5 3050.2,1618.5 3081.1,1618.5 3111.9,1618.5 3142.7,1618.5 3173.5,1618.5 3204.4,1618.5 3235.2,1618.5 3266.0,1618.5 3296.8,1618.5 3327.7,1618.5 3358.5,1618.5 3389.3,1618.5 3420.1,1618.5 3451.0,1618.5 3481.8,1618.5" fill="none" stroke="#009AFA" stroke-width="6" stroke-linejoin="miter" clip-path="url(#c3b)"/>
<polyline points="430.1,1520.5 460.9,1476.2 491.8,1543.0 522.6,1560.8 553.4,1577.0 584.2,1594.5 615.1,1565.5 645.9,1558.8 676.7,1552.0 707.5,1603.8 738.4,1607.0 769.2,1609.5 800.0,1612.5 830.8,1614.5 861.7,1616.5 892.5,1616.5 923.3,1616.8 954.1,1617.0 985.0,1617.2 1015.8,1617.5 1046.6,1618.5 1077.4,1618.5 1108.3,1618.5 1139.1,1618.5 1169.9,1618.5 1200.7,1618.5 1231.6,1618.5 1262.4,1618.5 1293.2,1618.5 1324.0,1618.5 1354.9,1618.5 1385.7,1618.5 1416.5,1618.5 1447.3,1618.5 1478.2,1618.5 1509.0,1618.5 1539.8,1618.5 1570.6,1618.5 1601.5,1618.5 1632.3,1618.5 1663.1,1618.5 1693.9,1618.5 1724.8,1618.5 1755.6,1618.5 1786.4,1618.5 1817.2,1618.5 1848.1,1618.5 1878.9,1618.5 1909.7,1618.5 1940.5,1618.5 1971.4,1618.5 2002.2,1618.5 2033.0,1618.5 2063.8,1618.5 2094.7,1618.5 2125.5,1618.5 2156.3,1618.5 2187.1,1618.5 2218.0,1618.5 2248.8,1618.5 2279.6,1618.5 2310.4,1618.5 2341.3,1618.5 2372.1,1618.5 2402.9,1618.5 2433.7,1618.5 2464.6,1618.5 2495.4,1618.5 2526.2,1618.5 2557.0,1618.5 2587.9,1618.5 2618.7,1618.5 2649.5,1618.5 2680.3,1618.5 2711.2,1618.5 2742.0,1618.5 2772.8,1618.5 2803.6,1618.5 2834.5,1618.5 2865.3,1618.5 2896.1,1618.5 2926.9,1618.5 2957.8,1618.5 2988.6,1618.5 3019.4,1618.5 3050.2,1618.5 3081.1,1618.5 3111.9,1618.5 3142.7,1618.5 3173.5,1618.5 3204.4,1618.5 3235.2,1618.5 3266.0,1618.5 3296.8,1618.5 3327.7,1618.5 3358.5,1618.5 3389.3,1618.5 3420.1,1618.5 3451.0,1618.5 3481.8,1618.5" fill="none" stroke="#E36F47" stroke-width="6" stroke-linejoin="miter" clip-path="url(#c3b)"/>
<text transform="translate(167.25,1605.78) scale(1.0398,1)" font-size="66.3" stroke="#fff" stroke-width="1.5" vector-effect="non-scaling-stroke" stroke-linejoin="round" style="mix-blend-mode:multiply">100000</text>
<text transform="translate(162.67,1567.11) scale(1.0608,1)" font-size="66.3" stroke="#fff" stroke-width="1.5" vector-effect="non-scaling-stroke" stroke-linejoin="round" style="mix-blend-mode:multiply">200000</text>
<text transform="translate(163.61,1528.44) scale(1.0565,1)" font-size="66.3" stroke="#fff" stroke-width="1.5" vector-effect="non-scaling-stroke" stroke-linejoin="round" style="mix-blend-mode:multiply">300000</text>
<text transform="translate(164.67,1489.77) scale(1.0516,1)" font-size="66.3" stroke="#fff" stroke-width="1.5" vector-effect="non-scaling-stroke" stroke-linejoin="round" style="mix-blend-mode:multiply">400000</text>
<text transform="translate(163.48,1451.10) scale(1.0571,1)" font-size="66.3" stroke="#fff" stroke-width="1.5" vector-effect="non-scaling-stroke" stroke-linejoin="round" style="mix-blend-mode:multiply">500000</text>
<text transform="translate(162.67,1412.43) scale(1.0608,1)" font-size="66.3" stroke="#fff" stroke-width="1.5" vector-effect="non-scaling-stroke" stroke-linejoin="round" style="mix-blend-mode:multiply">600000</text>
<text transform="translate(162.67,1373.76) scale(1.0608,1)" font-size="66.3" stroke="#fff" stroke-width="1.5" vector-effect="non-scaling-stroke" stroke-linejoin="round" style="mix-blend-mode:multiply">700000</text>
<text transform="translate(384.43,1699.95) scale(1.0348,1)" font-size="66.3" stroke="#fff" stroke-width="1.5" vector-effect="non-scaling-stroke" stroke-linejoin="round" style="mix-blend-mode:multiply">0.0</text>
<text transform="translate(999.80,1699.95) scale(0.9867,1)" font-size="66.3" stroke="#fff" stroke-width="1.5" vector-effect="non-scaling-stroke" stroke-linejoin="round" style="mix-blend-mode:multiply">0.1</text>
<text transform="translate(1605.04,1699.95) scale(1.0450,1)" font-size="66.3" stroke="#fff" stroke-width="1.5" vector-effect="non-scaling-stroke" stroke-linejoin="round" style="mix-blend-mode:multiply">0.2</text>
<text transform="translate(2214.96,1699.95) scale(1.0497,1)" font-size="66.3" stroke="#fff" stroke-width="1.5" vector-effect="non-scaling-stroke" stroke-linejoin="round" style="mix-blend-mode:multiply">0.3</text>
<text transform="translate(2824.70,1699.95) scale(1.0514,1)" font-size="66.3" stroke="#fff" stroke-width="1.5" vector-effect="non-scaling-stroke" stroke-linejoin="round" style="mix-blend-mode:multiply">0.4</text>
<text transform="translate(3434.96,1699.95) scale(1.0632,1)" font-size="66.3" stroke="#fff" stroke-width="1.5" vector-effect="non-scaling-stroke" stroke-linejoin="round" style="mix-blend-mode:multiply">0.5</text>
<text transform="translate(1696.79,1849.05) scale(0.9713,1)" font-size="67.9" stroke="#fff" stroke-width="1.5" vector-effect="non-scaling-stroke" stroke-linejoin="round" style="mix-blend-mode:multiply">Binned frequency</text>
<text transform="translate(63.05,1565.48) rotate(-90) scale(0.9476,1)" font-size="67.9" stroke="#fff" stroke-width="1.5" vector-effect="non-scaling-stroke" stroke-linejoin="round" style="mix-blend-mode:multiply">Power</text>
<clipPath id="c4"><rect x="430.1" y="1929.0" width="3051.7000000000003" height="232.0"/></clipPath>
<clipPath id="g4"><rect x="430.1" y="1929.0" width="3051.7000000000003" height="232.0"/></clipPath>
<g clip-path="url(#g4)">
<line x1="927.50" y1="1929.0" x2="927.50" y2="2161.0" stroke="#000" stroke-opacity="0.1" stroke-width="3.3"/>
<line x1="1750.50" y1="1929.0" x2="1750.50" y2="2161.0" stroke="#000" stroke-opacity="0.1" stroke-width="3.3"/>
<line x1="2573.50" y1="1929.0" x2="2573.50" y2="2161.0" stroke="#000" stroke-opacity="0.1" stroke-width="3.3"/>
<line x1="3396.50" y1="1929.0" x2="3396.50" y2="2161.0" stroke="#000" stroke-opacity="0.1" stroke-width="3.3"/>
<line x1="430.1" y1="2161.00" x2="3481.8" y2="2161.00" stroke="#000" stroke-opacity="0.1" stroke-width="3"/>
<line x1="430.1" y1="2126.06" x2="3481.8" y2="2126.06" stroke="#000" stroke-opacity="0.1" stroke-width="3"/>
<line x1="430.1" y1="2091.12" x2="3481.8" y2="2091.12" stroke="#000" stroke-opacity="0.1" stroke-width="3"/>
<line x1="430.1" y1="2056.18" x2="3481.8" y2="2056.18" stroke="#000" stroke-opacity="0.1" stroke-width="3"/>
<line x1="430.1" y1="2021.24" x2="3481.8" y2="2021.24" stroke="#000" stroke-opacity="0.1" stroke-width="3"/>
<line x1="430.1" y1="1986.30" x2="3481.8" y2="1986.30" stroke="#000" stroke-opacity="0.1" stroke-width="3"/>
<line x1="430.1" y1="1951.36" x2="3481.8" y2="1951.36" stroke="#000" stroke-opacity="0.1" stroke-width="3"/>
</g>
<g stroke="#000" stroke-width="6" fill="none">
<line x1="429.90000000000003" y1="1929.0" x2="429.90000000000003" y2="2161.0"/>
<line x1="429.90000000000003" y1="2161.0" x2="3481.8" y2="2161.0"/>
<line x1="430.1" y1="2161.00" x2="476" y2="2161.00"/>
<line x1="430.1" y1="2126.06" x2="476" y2="2126.06"/>
<line x1="430.1" y1="2091.12" x2="476" y2="2091.12"/>
<line x1="430.1" y1="2056.18" x2="476" y2="2056.18"/>
<line x1="430.1" y1="2021.24" x2="476" y2="2021.24"/>
<line x1="430.1" y1="1986.30" x2="476" y2="1986.30"/>
<line x1="430.1" y1="1951.36" x2="476" y2="1951.36"/>
<line x1="927.50" y1="2161.0" x2="927.50" y2="2157.36"/>
<line x1="1750.50" y1="2161.0" x2="1750.50" y2="2157.36"/>
<line x1="2573.50" y1="2161.0" x2="2573.50" y2="2157.36"/>
<line x1="3396.50" y1="2161.0" x2="3396.50" y2="2157.36"/>
</g>
<clipPath id="c4b"><rect x="430.1" y="1929.0" width="3051.7000000000003" height="235.0"/></clipPath>
<g stroke="#000" stroke-width="6" stroke-linejoin="miter" clip-path="url(#c4b)">
<rect x="516.0" y="2145.3" width="205.8" height="15.7" fill="#009AFA"/>
<rect x="721.8" y="2131.3" width="205.8" height="29.7" fill="#009AFA"/>
<rect x="927.5" y="2085.9" width="205.8" height="75.1" fill="#009AFA"/>
<rect x="1133.2" y="2059.7" width="205.8" height="101.3" fill="#009AFA"/>
<rect x="1339.0" y="2035.2" width="205.8" height="125.8" fill="#009AFA"/>
<rect x="1544.8" y="2042.2" width="205.8" height="118.8" fill="#009AFA"/>
<rect x="1750.5" y="1951.4" width="205.8" height="209.6" fill="#009AFA"/>
<rect x="1956.2" y="2021.2" width="205.8" height="139.8" fill="#009AFA"/>
<rect x="2162.0" y="2082.4" width="205.8" height="78.6" fill="#009AFA"/>
<rect x="2367.8" y="2038.7" width="205.8" height="122.3" fill="#009AFA"/>
<rect x="2573.5" y="2124.3" width="205.8" height="36.7" fill="#009AFA"/>
<rect x="2779.2" y="2152.3" width="205.8" height="8.7" fill="#009AFA"/>
<rect x="2985.0" y="2155.8" width="205.8" height="5.2" fill="#009AFA"/>
<rect x="3190.8" y="2155.8" width="205.8" height="5.2" fill="#009AFA"/>
<rect x="516.0" y="2159.3" width="205.8" height="1.7" fill="#E36F47"/>
<rect x="721.8" y="2140.0" width="205.8" height="21.0" fill="#E36F47"/>
<rect x="927.5" y="2106.8" width="205.8" height="54.2" fill="#E36F47"/>
<rect x="1133.2" y="2092.9" width="205.8" height="68.1" fill="#E36F47"/>
<rect x="1339.0" y="2035.2" width="205.8" height="125.8" fill="#E36F47"/>
<rect x="1544.8" y="2040.5" width="205.8" height="120.5" fill="#E36F47"/>
<rect x="1750.5" y="1928.6" width="205.8" height="232.4" fill="#E36F47"/>
<rect x="1956.2" y="2017.7" width="205.8" height="143.3" fill="#E36F47"/>
<rect x="2162.0" y="2106.8" width="205.8" height="54.2" fill="#E36F47"/>
<rect x="2367.8" y="2117.3" width="205.8" height="43.7" fill="#E36F47"/>
<rect x="2573.5" y="2155.8" width="205.8" height="5.2" fill="#E36F47"/>
</g>
<text transform="translate(358.71,2186.75) scale(1.0435,1)" font-size="66.3" stroke="#fff" stroke-width="1.5" vector-effect="non-scaling-stroke" stroke-linejoin="round" style="mix-blend-mode:multiply">0</text>
<text transform="translate(318.13,2151.81) scale(1.0731,1)" font-size="66.3" stroke="#fff" stroke-width="1.5" vector-effect="non-scaling-stroke" stroke-linejoin="round" style="mix-blend-mode:multiply">20</text>
<text transform="translate(318.86,2116.87) scale(1.0628,1)" font-size="66.3" stroke="#fff" stroke-width="1.5" vector-effect="non-scaling-stroke" stroke-linejoin="round" style="mix-blend-mode:multiply">40</text>
<text transform="translate(318.13,2081.93) scale(1.0731,1)" font-size="66.3" stroke="#fff" stroke-width="1.5" vector-effect="non-scaling-stroke" stroke-linejoin="round" style="mix-blend-mode:multiply">60</text>
<text transform="translate(319.94,2046.99) scale(1.0476,1)" font-size="66.3" stroke="#fff" stroke-width="1.5" vector-effect="non-scaling-stroke" stroke-linejoin="round" style="mix-blend-mode:multiply">80</text>
<text transform="translate(284.56,2012.05) scale(1.0175,1)" font-size="66.3" stroke="#fff" stroke-width="1.5" vector-effect="non-scaling-stroke" stroke-linejoin="round" style="mix-blend-mode:multiply">100</text>
<text transform="translate(284.56,1977.11) scale(1.0175,1)" font-size="66.3" stroke="#fff" stroke-width="1.5" vector-effect="non-scaling-stroke" stroke-linejoin="round" style="mix-blend-mode:multiply">120</text>
<text transform="translate(846.65,2242.25) scale(1.1076,1)" font-size="66.3" stroke="#fff" stroke-width="1.5" vector-effect="non-scaling-stroke" stroke-linejoin="round" style="mix-blend-mode:multiply">−200</text>
<text transform="translate(1731.48,2242.25) scale(1.0751,1)" font-size="66.3" stroke="#fff" stroke-width="1.5" vector-effect="non-scaling-stroke" stroke-linejoin="round" style="mix-blend-mode:multiply">0</text>
<text transform="translate(2515.12,2242.25) scale(1.0753,1)" font-size="66.3" stroke="#fff" stroke-width="1.5" vector-effect="non-scaling-stroke" stroke-linejoin="round" style="mix-blend-mode:multiply">200</text>
<clipPath id="c400"><rect x="3379" y="2180" width="120" height="80"/></clipPath><g clip-path="url(#c400)">
<text transform="translate(3339.68,2242.25) scale(1.0451,1)" font-size="66.3" stroke="#fff" stroke-width="1.5" vector-effect="non-scaling-stroke" stroke-linejoin="round" style="mix-blend-mode:multiply">400</text>
</g>
<text transform="translate(1773.62,2391.35) scale(0.9297,1)" font-size="67.9" stroke="#fff" stroke-width="1.5" vector-effect="non-scaling-stroke" stroke-linejoin="round" style="mix-blend-mode:multiply">Binned value</text>
<text transform="translate(63.05,2201.43) rotate(-90) scale(0.9747,1)" font-size="67.9" stroke="#fff" stroke-width="1.5" vector-effect="non-scaling-stroke" stroke-linejoin="round" style="mix-blend-mode:multiply">Frequency</text>
<rect x="2776" y="2076.6" width="598" height="204.1" fill="#fff" stroke="#000" stroke-width="6"/>
<rect x="2812" y="2117.4" width="215.7" height="53.9" fill="#009AFA" stroke="#000" stroke-width="6"/>
<rect x="2812" y="2185.4" width="215.7" height="54.5" fill="#E36F47" stroke="#000" stroke-width="6"/>
<text transform="translate(3063.07,2164.95) scale(0.9114,1)" font-size="51.5" stroke="#fff" stroke-width="1.5" vector-effect="non-scaling-stroke" stroke-linejoin="round" style="mix-blend-mode:multiply">Original</text>
<text transform="translate(3062.96,2232.75) scale(1.0050,1)" font-size="51.5" stroke="#fff" stroke-width="1.5" vector-effect="non-scaling-stroke" stroke-linejoin="round" style="mix-blend-mode:multiply">Surrogate</text>
</svg>
</body></html>
